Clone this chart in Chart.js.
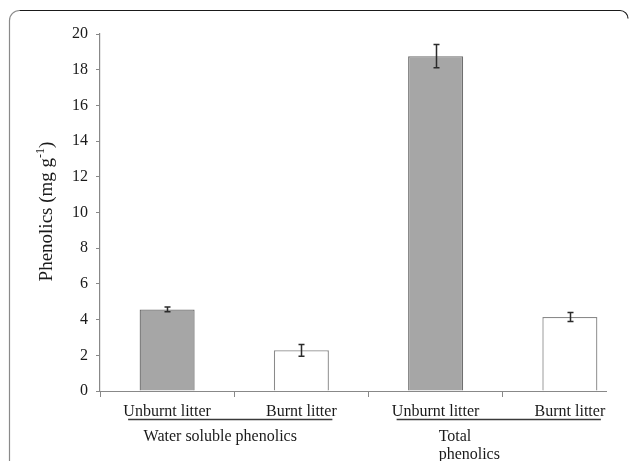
<!DOCTYPE html>
<html>
<head>
<meta charset="utf-8">
<script src="https://cdn.jsdelivr.net/npm/chart.js@4"></script>
<style>
  html, body { margin: 0; padding: 0; background: #fff; overflow: hidden; }
  #wrap { width: 640px; height: 461px; }
</style>
</head>
<body>
<div id="wrap"><canvas id="phenolChart" width="640" height="461"></canvas></div>
<script>
// data
const categories = ["Unburnt litter", "Burnt litter", "Unburnt litter", "Burnt litter"];
const phenolics = [4.57, 2.28, 18.76, 4.15];
const errors = [0.13, 0.33, 0.65, 0.25];
const barColors = ["#a6a6a6", "#ffffff", "#a6a6a6", "#ffffff"];
const borderColors = ["#6f6f6f", "#8a8a8a", "#6f6f6f", "#8a8a8a"];
const groups = [
  { lines: ["Water soluble phenolics"], from: 0, to: 1, align: "center" },
  { lines: ["Total", "phenolics"], from: 2, to: 3, align: "left" },
];
const yTicks = [0, 2, 4, 6, 8, 10, 12, 14, 16, 18, 20];

const serif = "'Liberation Serif', 'Times New Roman', serif";

// error bars drawn through the y scale
const errorBars = {
  id: "errorBars",
  afterDatasetsDraw(chart) {
    const ctx = chart.ctx;
    const y = chart.scales.y;
    const meta = chart.getDatasetMeta(0);
    ctx.save();
    ctx.strokeStyle = "#2b2b2b";
    ctx.lineWidth = 1.5;
    meta.data.forEach((bar, i) => {
      const top = y.getPixelForValue(phenolics[i] + errors[i]);
      const bot = y.getPixelForValue(phenolics[i] - errors[i]);
      const x = Math.round(bar.x) + 0.5;
      ctx.beginPath();
      ctx.moveTo(x, top); ctx.lineTo(x, bot);
      ctx.moveTo(x - 3, top); ctx.lineTo(x + 3, top);
      ctx.moveTo(x - 3, bot); ctx.lineTo(x + 3, bot);
      ctx.stroke();
    });
    ctx.restore();
  },
};

// frame, x axis line, y title with superscript, group underlines and labels
const extras = {
  id: "extras",
  afterDraw(chart) {
    const ctx = chart.ctx;
    const xs = chart.scales.x;
    const area = chart.chartArea;
    ctx.save();

    // rounded frame (only top-left visible)
    ctx.lineWidth = 1.2;
    ctx.strokeStyle = "#8a8a8a";
    ctx.beginPath();
    ctx.moveTo(9.5, 470);
    ctx.lineTo(9.5, 20.5);
    ctx.arcTo(9.5, 10.5, 19.5, 10.5, 10);
    ctx.stroke();
    ctx.strokeStyle = "#1a1a1a";
    ctx.beginPath();
    ctx.moveTo(19.5, 10.5);
    ctx.lineTo(620, 10.5);
    ctx.arcTo(628, 10.5, 628, 18, 8);
    ctx.stroke();

    // x axis line, stops short of the last category edge as in the figure
    ctx.strokeStyle = "#888";
    ctx.lineWidth = 1.2;
    ctx.beginPath();
    ctx.moveTo(area.left, Math.round(area.bottom) + 0.5);
    ctx.lineTo(area.right - 30, Math.round(area.bottom) + 0.5);
    ctx.stroke();

    // y axis title
    ctx.fillStyle = "#1a1a1a";
    ctx.translate(47, (area.top + area.bottom) / 2 - 1);
    ctx.rotate(-Math.PI / 2);
    ctx.textBaseline = "middle";
    const big = "19px " + serif;
    const small = "12px " + serif;
    const p1 = "Phenolics (mg g", p2 = "-1", p3 = ")";
    ctx.font = big; const w1 = ctx.measureText(p1).width; const w3 = ctx.measureText(p3).width;
    ctx.font = small; const w2 = ctx.measureText(p2).width;
    let tx = -(w1 + w2 + w3) / 2;
    ctx.font = big; ctx.textAlign = "left";
    ctx.fillText(p1, tx, 0); tx += w1;
    ctx.font = small; ctx.fillText(p2, tx, -6); tx += w2;
    ctx.font = big; ctx.fillText(p3, tx, 0);
    ctx.setTransform(1, 0, 0, 1, 0, 0);

    // group underlines and labels
    ctx.strokeStyle = "#3a3a3a";
    ctx.lineWidth = 1.6;
    ctx.font = "16px " + serif;
    ctx.textBaseline = "middle";
    groups.forEach((g) => {
      const x0 = xs.getPixelForValue(g.from) - 39;
      const x1 = xs.getPixelForValue(g.to) + 31;
      ctx.beginPath();
      ctx.moveTo(x0, 419.5);
      ctx.lineTo(x1, 419.5);
      ctx.stroke();
      g.lines.forEach((t, k) => {
        if (g.align === "center") {
          ctx.textAlign = "center";
          ctx.fillText(t, (x0 + x1) / 2 - 10, 437 + k * 18);
        } else {
          ctx.textAlign = "left";
          ctx.fillText(t, x0 + 42, 437 + k * 18);
        }
      });
    });
    ctx.restore();
  },
};

new Chart(document.getElementById("phenolChart").getContext("2d"), {
  type: "bar",
  data: {
    labels: categories,
    datasets: [
      {
        label: "Phenolics",
        data: phenolics,
        backgroundColor: barColors,
        borderColor: borderColors,
        borderWidth: 1.3,
        barPercentage: 0.41,
        categoryPercentage: 1,
      },
    ],
  },
  options: {
    responsive: false,
    animation: false,
    layout: { padding: { left: 0, right: 3, top: 34, bottom: 0 } },
    plugins: {
      legend: { display: false },
      tooltip: { enabled: false },
    },
    scales: {
      x: {
        offset: true,
        grid: {
          offset: true,
          drawOnChartArea: false,
          tickLength: 6,
          color: "#888",
        },
        border: { display: false },
        ticks: {
          font: { family: serif, size: 16 },
          color: "#1a1a1a",
          padding: 5,
          maxRotation: 0,
          autoSkip: false,
        },
        afterFit: (s) => { s.height = 70; },
      },
      y: {
        min: 0,
        max: 20,
        afterBuildTicks: (s) => { s.ticks = yTicks.map((v) => ({ value: v })); },
        grid: {
          drawOnChartArea: false,
          tickLength: 4,
          color: "#888",
        },
        border: { color: "#888", width: 1.2 },
        ticks: {
          font: { family: serif, size: 16 },
          color: "#1a1a1a",
          padding: 8,
        },
        afterFit: (s) => { s.width = 100; },
      },
    },
  },
  plugins: [errorBars, extras],
});
</script>
</body>
</html>
